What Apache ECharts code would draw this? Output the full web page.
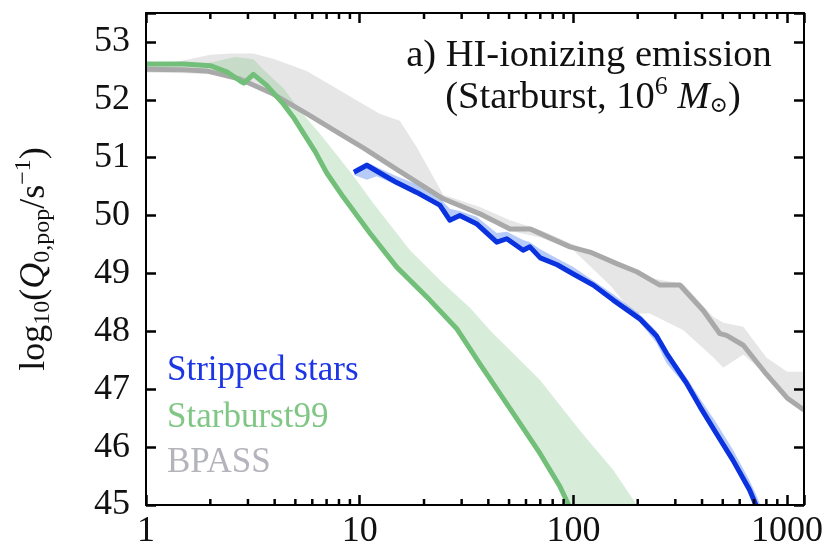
<!DOCTYPE html>
<html>
<head>
<meta charset="utf-8">
<script src="https://cdn.jsdelivr.net/npm/echarts@6/dist/echarts.min.js"></script>
<style>
html, body { margin: 0; padding: 0; background: #ffffff; }
#chart { width: 827px; height: 550px; }
</style>
</head>
<body>
<div id="chart"></div>
<script>
// Ionizing (HI) photon emission rate of a 10^6 Msun starburst vs. age [Myr]
const SERIF = '"Liberation Serif", "Times New Roman", "DejaVu Serif", serif';

const X_MIN = 1, X_MAX = 1200;
const Y_MIN = 45, Y_MAX = 53.5;
const xTickValues = [1, 10, 100, 1000];
const xMinorTicks = [2, 3, 4, 5, 6, 7, 8, 9, 20, 30, 40, 50, 60, 70, 80, 90, 200, 300, 400, 500, 600, 700, 800, 900];

// Stripped stars: [age, log10 Q0]
const strippedLine = [
  [9.4, 50.75], [10.8, 50.87], [12.0, 50.77], [14.9, 50.57], [18.5, 50.40], [23.7, 50.18],
  [26.4, 49.92], [29.4, 50.00], [35.2, 49.86], [43.8, 49.54], [48.8, 49.60], [58.2, 49.40],
  [62.6, 49.46], [70, 49.27], [84, 49.15], [99, 49.00], [123.8, 48.80], [153.7, 48.54],
  [204, 48.22], [245, 47.92], [273, 47.62], [339, 47.10], [391, 46.70], [466, 46.24],
  [557, 45.78], [668, 45.26], [715, 45.00]
];
// Stripped stars spread: [age, low, high]
const strippedBand = [
  [9.4, 50.70, 50.80], [10.8, 50.62, 50.92], [12.0, 50.68, 50.84], [14.9, 50.53, 50.68],
  [18.5, 50.36, 50.54], [23.7, 50.14, 50.30], [26.4, 49.92, 50.12], [29.4, 49.96, 50.08],
  [35.2, 49.82, 49.98], [43.8, 49.52, 49.70], [48.8, 49.56, 49.72], [58.2, 49.38, 49.58],
  [62.6, 49.42, 49.54], [70, 49.24, 49.42], [84, 49.12, 49.26], [99, 48.97, 49.12],
  [123.8, 48.76, 48.88], [153.7, 48.50, 48.64], [204, 48.16, 48.30], [245, 47.80, 48.00],
  [273, 47.45, 47.66], [339, 47.04, 47.20], [391, 46.66, 46.84], [466, 46.22, 46.42],
  [557, 45.76, 45.96], [668, 45.24, 45.42], [712, 45.00, 45.20], [750, 45.00, 45.00]
];

// Starburst99
const sb99Line = [
  [1, 52.62], [1.5, 52.62], [2.0, 52.59], [2.4, 52.48], [2.75, 52.33], [2.87, 52.29],
  [3.18, 52.44], [3.67, 52.25], [4.39, 51.93], [4.89, 51.70], [6.2, 51.10], [7.0, 50.74],
  [8.38, 50.32], [11.2, 49.69], [14.9, 49.11], [21.3, 48.54], [28.4, 48.05], [36.5, 47.44],
  [52.4, 46.58], [69.8, 45.89], [86.5, 45.32], [95, 45.00]
];
const sb99BandUpper = [
  [2.0, 52.64], [2.6, 52.74], [3.18, 52.70], [3.6, 52.50], [4.4, 52.20], [5.3, 51.80],
  [6.5, 51.42], [7.8, 51.05], [9.5, 50.65], [11.6, 50.21], [17.2, 49.40], [24.6, 48.83],
  [33, 48.40], [40.7, 48.02], [69.8, 47.16], [107, 46.29], [154, 45.60], [198, 45.00]
];

// BPASS
const bpassLine = [
  [1, 52.53], [1.5, 52.52], [1.92, 52.50], [2.75, 52.36], [3.94, 52.10], [5.65, 51.76],
  [8.09, 51.41], [10.4, 51.17], [14.9, 50.80], [24.6, 50.29], [36.5, 50.03], [50.5, 49.77],
  [62.6, 49.77], [96.4, 49.46], [119.6, 49.37], [159.5, 49.17], [198, 49.03], [254, 48.80],
  [315, 48.80], [405, 48.36], [485, 47.96], [521, 47.93], [624, 47.76], [800, 47.26],
  [1000, 46.85], [1200, 46.64]
];
const bpassBand = [
  [1, 52.47, 52.58], [1.5, 52.46, 52.68], [2.0, 52.44, 52.78], [2.5, 52.38, 52.80],
  [3.18, 52.28, 52.80], [4.0, 52.08, 52.70], [5.65, 51.76, 52.50], [8.09, 51.41, 52.16],
  [12.4, 50.95, 51.76], [15.4, 50.74, 51.64], [18.5, 50.55, 51.18], [24.6, 50.26, 50.36],
  [36.5, 50.00, 50.15], [50.5, 49.74, 49.92], [70, 49.62, 49.75], [100, 49.40, 49.50],
  [150, 48.78, 49.25], [190, 48.31, 49.08], [228, 48.31, 48.92], [327, 48.02, 48.82],
  [452, 47.55, 48.25], [503, 47.37, 48.15], [624, 47.60, 48.08], [800, 47.25, 47.55],
  [1000, 46.85, 47.30], [1200, 46.62, 47.30]
];

const COLORS = {
  stripped: '#0a32de', strippedBand: 'rgba(95, 140, 240, 0.45)',
  sb99: '#72bf79', sb99Band: 'rgba(130, 200, 140, 0.32)',
  bpass: '#a9a9a9', bpassBand: 'rgba(200, 200, 200, 0.45)'
};
const AXIS_COLOR = '#000000';

// Filled region between an upper and a lower curve
function bandSeries(name, upper, lower, fill) {
  return {
    type: 'custom',
    name: name,
    silent: true,
    clip: true,
    data: upper,
    renderItem: function (params, api) {
      if (params.dataIndex !== 0) return null;
      const pts = upper.map(function (p) { return api.coord(p); })
        .concat(lower.slice().reverse().map(function (p) { return api.coord(p); }));
      return { type: 'polygon', shape: { points: pts }, style: { fill: fill } };
    }
  };
}

function lineSeries(name, data, color) {
  return {
    type: 'line', name: name, data: data, showSymbol: false, symbol: 'none',
    clip: true, silent: true,
    lineStyle: { color: color, width: 5, join: 'round' }
  };
}

function axisLine() {
  return { show: true, lineStyle: { color: AXIS_COLOR, width: 2 } };
}
function axisTick() {
  return { show: true, inside: true, length: 10, lineStyle: { color: AXIS_COLOR, width: 2.5 } };
}

const chart = echarts.init(document.getElementById('chart'), null, { renderer: 'canvas' });
chart.setOption({
  animation: false,
  backgroundColor: '#ffffff',
  grid: { left: 146, right: 23, top: 13, bottom: 45, containLabel: false, outerBoundsMode: 'none' },
  xAxis: [
    {
      type: 'log', logBase: 10, min: X_MIN, max: X_MAX, position: 'bottom', z: 5,
      axisLine: axisLine(), axisTick: axisTick(), splitLine: { show: false },
      axisLabel: {
        fontFamily: SERIF, fontSize: 36, color: '#111', margin: 9,
        formatter: function (v) {
          const r = Math.round(v);
          return xTickValues.indexOf(r) >= 0 && Math.abs(v - r) < 1e-6 * r ? String(r) : '';
        }
      }
    },
    {
      type: 'log', logBase: 10, min: X_MIN, max: X_MAX, position: 'top', z: 5,
      axisLine: axisLine(), axisTick: axisTick(), splitLine: { show: false },
      axisLabel: { show: false }
    }
  ],
  yAxis: [
    {
      type: 'value', min: Y_MIN, max: Y_MAX, interval: 1, position: 'left', z: 5,
      axisLine: axisLine(), axisTick: axisTick(), splitLine: { show: false },
      axisLabel: {
        fontFamily: SERIF, fontSize: 36, color: '#111', margin: 16,
        formatter: function (v) { return Number.isInteger(v) ? String(v) : ''; }
      },
      name: '{n|log}{s|10}{n|(}{i|Q}{s|0,pop}{n|/s}{p|\u22121}{n|)}',
      nameLocation: 'middle', nameRotate: 90, nameGap: 88,
      nameTextStyle: {
        fontFamily: SERIF, fontSize: 36, color: '#111',
        rich: {
          n: { fontFamily: SERIF, fontSize: 36, color: '#111' },
          i: { fontFamily: SERIF, fontSize: 36, fontStyle: 'italic', color: '#111' },
          s: { fontFamily: SERIF, fontSize: 24, color: '#111', padding: [16, 0, 0, 0] },
          p: { fontFamily: SERIF, fontSize: 24, color: '#111', padding: [0, 0, 22, 0] }
        }
      }
    },
    {
      type: 'value', min: Y_MIN, max: Y_MAX, interval: 1, position: 'right', z: 5,
      axisLine: axisLine(), axisTick: axisTick(), splitLine: { show: false },
      axisLabel: { show: false }
    }
  ],
  series: [
    bandSeries('BPASS range', bpassBand.map(function (d) { return [d[0], d[2]]; }),
      bpassBand.map(function (d) { return [d[0], d[1]]; }), COLORS.bpassBand),
    bandSeries('Starburst99 range', sb99BandUpper, sb99Line, COLORS.sb99Band),
    bandSeries('Stripped stars range', strippedBand.map(function (d) { return [d[0], d[2]]; }),
      strippedBand.map(function (d) { return [d[0], d[1]]; }), COLORS.strippedBand),
    lineSeries('BPASS', bpassLine, COLORS.bpass),
    lineSeries('Starburst99', sb99Line, COLORS.sb99),
    lineSeries('Stripped stars', strippedLine, COLORS.stripped),
    {
      // minor log ticks on bottom and top frame edges
      type: 'custom', name: 'minor ticks', silent: true, z: 6, clip: false,
      data: xMinorTicks.map(function (t) { return [t, Y_MIN]; }),
      renderItem: function (params, api) {
        const t = api.value(0);
        const b = api.coord([t, Y_MIN]);
        const tp = api.coord([t, Y_MAX]);
        const st = { stroke: AXIS_COLOR, lineWidth: 2.5 };
        return {
          type: 'group', children: [
            { type: 'line', shape: { x1: b[0], y1: b[1], x2: b[0], y2: b[1] - 6 }, style: st },
            { type: 'line', shape: { x1: tp[0], y1: tp[1], x2: tp[0], y2: tp[1] + 6 }, style: st }
          ]
        };
      }
    }
  ],
  graphic: [
    {
      type: 'text', x: 589, y: 56, silent: true,
      style: {
        text: 'a) HI-ionizing emission', fontFamily: SERIF, fontSize: 38.5, fill: '#111',
        align: 'center', verticalAlign: 'middle'
      }
    },
    {
      type: 'text', x: 593, y: 98, silent: true,
      style: {
        text: '{n|(Starburst, 10}{p|6}{n| }{i|M}{s|\u2299}{n|)}',
        fontFamily: SERIF, fontSize: 38.5, fill: '#111', align: 'center', verticalAlign: 'middle',
        rich: {
          n: { fontFamily: SERIF, fontSize: 38.5, fill: '#111' },
          i: { fontFamily: SERIF, fontSize: 38.5, fontStyle: 'italic', fill: '#111' },
          p: { fontFamily: SERIF, fontSize: 26, fill: '#111', padding: [0, 0, 22, 0] },
          s: { fontFamily: SERIF, fontSize: 22, fill: '#111', padding: [16, 0, 0, 0] }
        }
      }
    },
    {
      type: 'text', x: 167, y: 371, silent: true,
      style: { text: 'Stripped stars', fontFamily: SERIF, fontSize: 35, fill: '#1c36e6', align: 'left', verticalAlign: 'middle' }
    },
    {
      type: 'text', x: 167, y: 418, silent: true,
      style: { text: 'Starburst99', fontFamily: SERIF, fontSize: 35, fill: '#80c785', align: 'left', verticalAlign: 'middle' }
    },
    {
      type: 'text', x: 167, y: 463, silent: true,
      style: { text: 'BPASS', fontFamily: SERIF, fontSize: 35, fill: '#b4b4bc', align: 'left', verticalAlign: 'middle' }
    }
  ]
});
</script>
</body>
</html>
